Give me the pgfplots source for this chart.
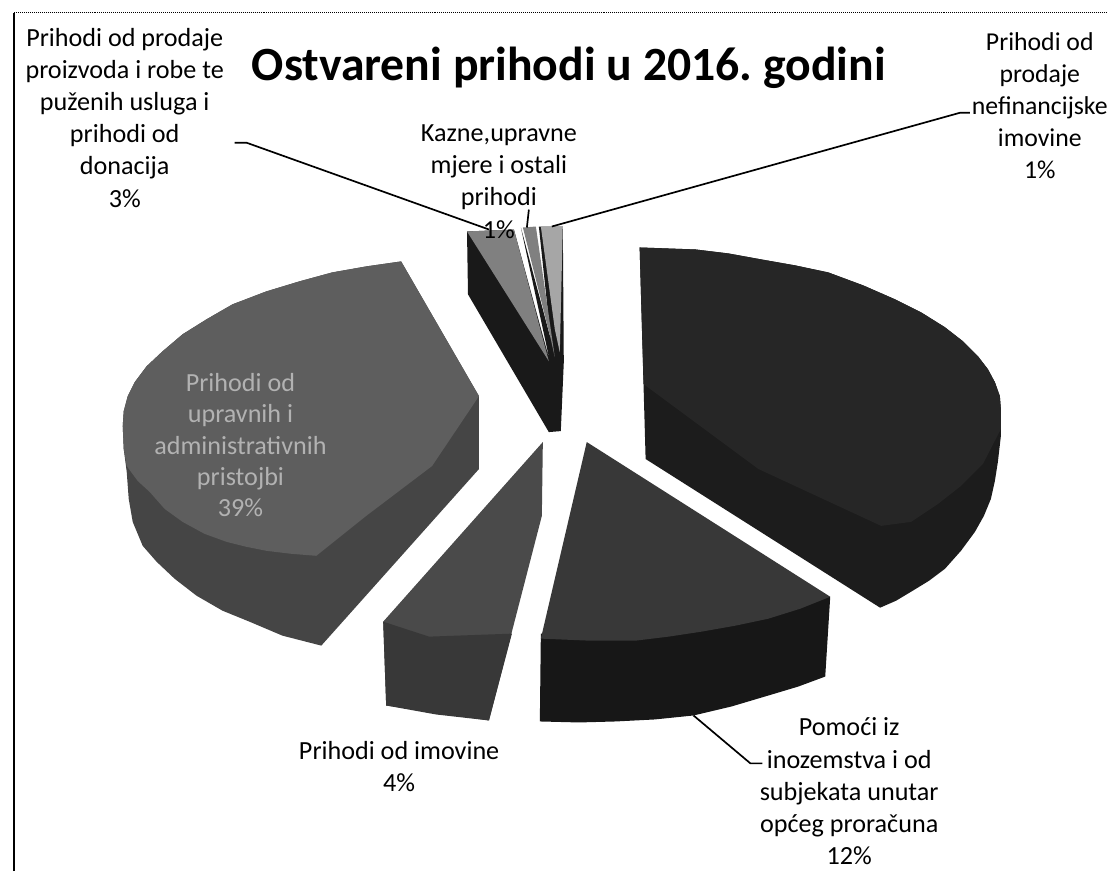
\documentclass[border=0pt]{standalone}
\usepackage{fontspec}
\setmainfont{Carlito}
\usepackage{pgfplots}
\pgfplotsset{compat=1.18}
\definecolor{topA}{gray}{0.37}
\definecolor{sideA}{gray}{0.27}
\definecolor{topB}{gray}{0.15}
\definecolor{sideB}{gray}{0.11}
\definecolor{topD}{gray}{0.22}
\definecolor{sideD}{gray}{0.09}
\definecolor{topC}{gray}{0.29}
\definecolor{sideC}{gray}{0.22}
\definecolor{topS}{gray}{0.50}
\begin{document}
\frenchspacing
\begin{tikzpicture}
\begin{axis}[
  width=1111bp,height=874bp,scale only axis,
  xmin=0,xmax=1111,ymin=0,ymax=874,y dir=reverse,
  hide axis,clip=false,
  every node/.append style={inner sep=0pt,outer sep=0pt},
]
% page extent
\addplot[draw=white,line width=0pt] coordinates {(0,0)(1111,0)(1111,874)(0,874)} -- cycle;
% frame
\addplot[draw=black,line width=1.2pt] coordinates {(14,873)(14,13)};
\addplot[draw=black,line width=1pt,densely dotted] coordinates {(14,13)(1108,13)};
% left big slice (39%)
\addplot[draw=none,fill=sideA] coordinates {(402,262)(367,267)(333,273)(300,282)(267,292)(233,305)(207,320)(183,335)(163,352)(147,367)(135,383)(128,397)(124,412)(123,427)(124,450)(127,473)(129,500)(133,523)(143,547)(157,563)(175,580)(197,597)(223,612)(250,623)(283,637)(322,647)(480,470)(480,397)} -- cycle;
\addplot[draw=none,fill=topA] coordinates {(402,262)(367,267)(333,273)(300,282)(267,292)(233,305)(207,320)(183,335)(163,352)(147,367)(135,383)(128,397)(124,412)(123,427)(124,450)(127,467)(138,482)(150,493)(165,510)(183,523)(205,535)(227,543)(247,548)(267,552)(292,555)(317,557)(367,517)(433,467)(480,397)} -- cycle;
% right big slice (40%)
\addplot[draw=none,fill=sideB] coordinates {(641,248)(697,250)(730,254)(763,260)(797,266)(830,273)(865,286)(897,300)(923,313)(947,328)(965,342)(980,357)(990,370)(997,383)(1002,397)(1003,410)(1003,437)(1000,463)(997,482)(993,500)(986,517)(977,533)(963,552)(947,570)(931,582)(913,593)(898,602)(882,609)(647,460)} -- cycle;
\addplot[draw=none,fill=topB] coordinates {(641,248)(697,250)(730,254)(763,260)(797,266)(830,273)(865,286)(897,300)(923,313)(947,328)(965,342)(980,357)(990,370)(997,383)(1002,397)(1003,410)(1003,430)(985,465)(963,487)(940,505)(913,523)(883,527)(760,470)(645,385)} -- cycle;
% 12% slice
\addplot[draw=none,fill=sideD] coordinates {(542,635)(541,723)(580,724)(617,723)(656,721)(695,717)(733,708)(770,697)(800,688)(827,678)(832,598)} -- cycle;
\addplot[draw=none,fill=topD] coordinates {(588,443)(542,640)(590,642)(637,642)(670,638)(703,633)(737,627)(770,620)(802,610)(832,598)} -- cycle;
% 4% slice
\addplot[draw=none,fill=topC] coordinates {(544,443)(543,517)(490,722)(387,707)(384,623)} -- cycle;
\addplot[draw=none,fill=sideC] coordinates {(384,623)(430,638)(513,635)(490,722)(437,716)(387,707)} -- cycle;
% small slices
\addplot[draw=none,fill=black!90] coordinates {(468,232)(469,295)(550,433)(562,432)(565,363)(564,227)(540,227)(552,340)(522,228)(551,362)(515,230)} -- cycle;
\addplot[draw=none,fill=topS] coordinates {(468,232)(515,230)(550,362)} -- cycle;
\addplot[draw=none,fill=topS] coordinates {(524,228)(537,227)(556,358)(552,340)} -- cycle;
\addplot[draw=none,fill=topS!70!white] coordinates {(542,227)(564,227)(561,353)(556,330)} -- cycle;
% leader lines
\addplot[draw=black,line width=1.7pt] coordinates {(235,143)(247,143)(490,230)};
\addplot[draw=black,line width=1.7pt] coordinates {(530,210)(528,228)};
\addplot[draw=black,line width=1.7pt] coordinates {(553,227)(962,113)(972,113)};
\addplot[draw=black,line width=1.7pt] coordinates {(695,717)(752,765)(764,765)};
% texts
\node[font=\bfseries\fontsize{47.8bp}{52bp}\selectfont] at (axis cs:570,68) {Ostvareni prihodi u 2016. godini};
\node[align=center,font=\fontsize{26.2bp}{32.2bp}\selectfont] at (axis cs:125,118) {Prihodi od prodaje\\proizvoda i robe te\\puženih usluga i\\prihodi od\\donacija\\3\%};
\node[align=center,font=\fontsize{25.8bp}{32.2bp}\selectfont] at (axis cs:1042,106) {Prihodi od\\prodaje\\nefinancijske\\imovine\\1\%};
\node[align=center,font=\fontsize{26.2bp}{32.2bp}\selectfont] at (axis cs:500,182) {Kazne,upravne\\mjere i ostali\\prihodi\\1\%};
\node[align=center,font=\fontsize{26.2bp}{31.2bp}\selectfont,text=white!70!black] at (axis cs:241,446) {Prihodi od\\upravnih i\\administrativnih\\pristojbi\\39\%};
\node[align=center,font=\fontsize{26.2bp}{32.2bp}\selectfont] at (axis cs:400,768) {Prihodi od imovine\\4\%};
\node[align=center,font=\fontsize{26.2bp}{32.2bp}\selectfont] at (axis cs:851,793) {Pomoći iz\\inozemstva i od\\subjekata unutar\\općeg proračuna\\12\%};
\end{axis}
\end{tikzpicture}
\end{document}
